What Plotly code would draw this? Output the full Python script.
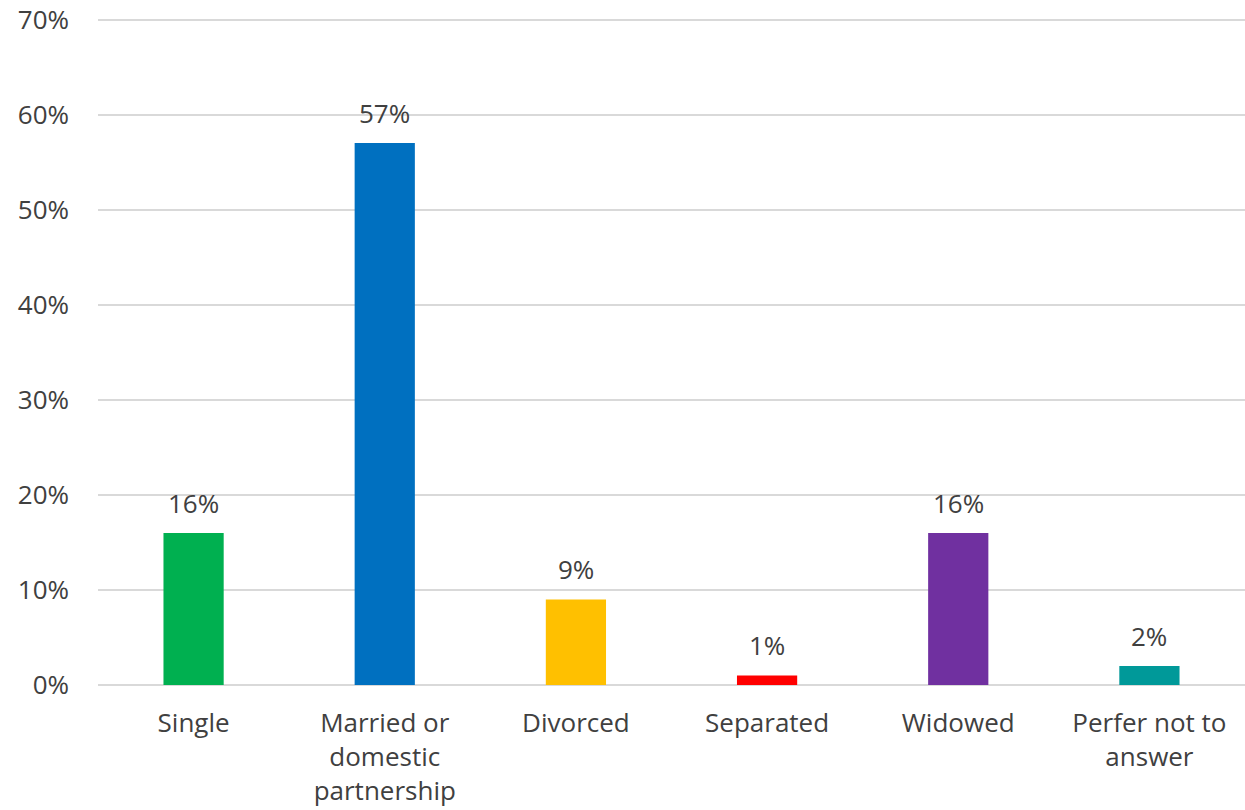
import plotly.graph_objects as go

# Marital status distribution
categories = ["Single", "Married or<br>domestic<br>partnership", "Divorced",
              "Separated", "Widowed", "Perfer not to<br>answer"]
shares = [16, 57, 9, 1, 16, 2]
bar_colors = ["#00B050", "#0070C0", "#FFC000", "#FF0000", "#7030A0", "#009999"]
y_ticks = [0, 10, 20, 30, 40, 50, 60, 70]
y_tick_labels = [f"{v}%" for v in y_ticks]

FONT = "Open Sans, Segoe UI, sans-serif"
TEXT_COLOR = "#404040"
FS = 26

fig = go.Figure(
    go.Bar(
        x=categories,
        y=shares,
        marker=dict(color=bar_colors, line=dict(width=0)),
        width=0.315,
        hoverinfo="skip",
    )
)

for cat, val in zip(categories, shares):
    fig.add_annotation(
        x=cat, y=val, text=f"{val}%", showarrow=False,
        yanchor="bottom", yshift=10,
        font=dict(family=FONT, size=FS, color=TEXT_COLOR),
    )

fig.update_layout(
    width=1245, height=810,
    margin=dict(l=98, r=0, t=10, b=125),
    paper_bgcolor="white", plot_bgcolor="white",
    showlegend=False,
    font=dict(family=FONT, size=FS, color=TEXT_COLOR),
)
fig.update_xaxes(
    showgrid=False, zeroline=False, showline=False,
    ticks="", ticklabelstandoff=20,
    tickfont=dict(family=FONT, size=FS, color=TEXT_COLOR),
)
fig.update_yaxes(
    range=[0, 71], tickvals=y_ticks, ticktext=y_tick_labels,
    showgrid=True, gridcolor="#D9D9D9", gridwidth=2,
    zeroline=True, zerolinecolor="#D9D9D9", zerolinewidth=2,
    showline=False, ticks="", ticklabelstandoff=28,
    tickfont=dict(family=FONT, size=FS, color=TEXT_COLOR),
)

fig.write_html("out.html")
